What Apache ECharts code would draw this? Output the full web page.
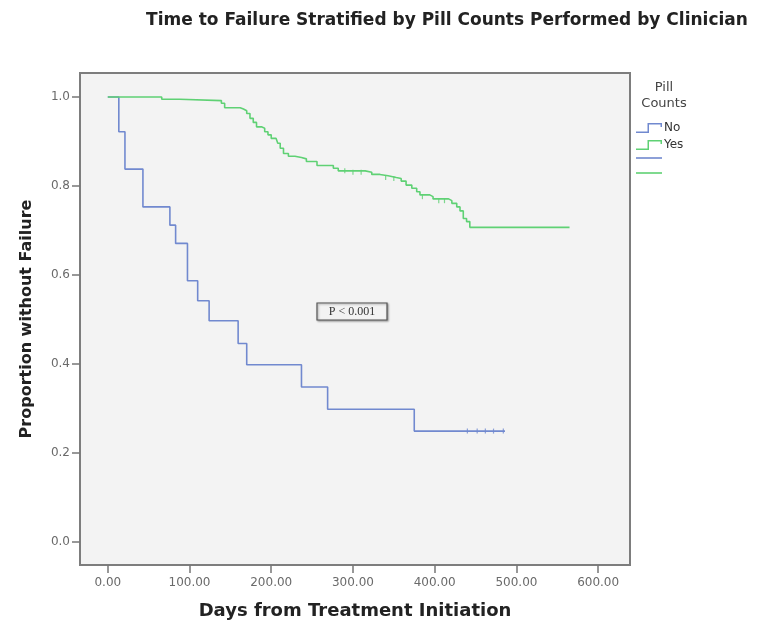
<!DOCTYPE html>
<html>
<head>
<meta charset="utf-8">
<script src="https://cdn.jsdelivr.net/npm/echarts@6/dist/echarts.min.js"></script>
<style>
html,body{margin:0;padding:0;background:#fff;}
#chart{width:772px;height:621px;}
</style>
</head>
<body>
<div id="chart"></div>
<script>
// ---- data ----
const titleText = 'Time to Failure Stratified by Pill Counts Performed by Clinician';
const xTitle = 'Days from Treatment Initiation';
const yTitle = 'Proportion without Failure';
const legendTitle = ['Pill', 'Counts'];
const groupNames = ['No', 'Yes'];
const xTicks = [0, 100, 200, 300, 400, 500, 600];
const yTicks = [0, 0.2, 0.4, 0.6, 0.8, 1.0];
const pLabel = 'P < 0.001';

// Kaplan-Meier steps: time (days) and survival after the drop
const noTimes = [0, 13.5, 21, 43, 76, 83, 97.5, 110, 124, 159.5, 170, 237, 269, 375, 486];
const noSurv  = [1.0, 0.922, 0.838, 0.753, 0.712, 0.671, 0.587, 0.542, 0.497, 0.446, 0.398, 0.348, 0.298, 0.249, 0.249];

const yesTimes = [0, 66, 88, 139, 143, 162, 166, 170, 174, 178, 182, 188, 192, 196, 200, 206, 208, 211, 215, 221, 229, 237, 243, 256, 276, 282, 315, 323, 333, 343, 353, 359, 365, 372, 378, 382, 394, 398, 417, 421, 427, 431, 435, 439, 443, 565];
const yesSurv  = [1.0, 0.995, 0.992, 0.986, 0.976, 0.973, 0.969, 0.963, 0.952, 0.943, 0.933, 0.930, 0.922, 0.915, 0.907, 0.903, 0.896, 0.885, 0.873, 0.867, 0.864, 0.861, 0.855, 0.846, 0.840, 0.834, 0.831, 0.826, 0.823, 0.819, 0.817, 0.811, 0.802, 0.795, 0.787, 0.780, 0.776, 0.771, 0.767, 0.761, 0.753, 0.744, 0.727, 0.720, 0.707, 0.707];

// censored observations (small vertical ticks)
const noCensorTimes = [440, 452, 462, 472, 484];
const noCensorSurv  = [0.249, 0.249, 0.249, 0.249, 0.249];
const yesCensorTimes = [290, 300, 310, 340, 350, 385, 405, 412];
const yesCensorSurv  = [0.834, 0.831, 0.831, 0.819, 0.817, 0.776, 0.767, 0.767];

// ---- styling ----
const blue = '#7189cf';
const green = '#5fd174';
const font = 'DejaVu Sans';

const zip = (a, b) => a.map((v, i) => [v, b[i]]);
const stepIcon = 'path://M0,8.5 L11.5,8.5 L11.5,0 L26,0 L26,4 L24.5,4 L24.5,1.5 L13,1.5 L13,10 L0,10 Z';

const chart = echarts.init(document.getElementById('chart'), null, {renderer: 'canvas'});

const option = {
  animation: false,
  backgroundColor: '#ffffff',
  title: {
    text: titleText,
    left: 442,
    textAlign: 'center',
    top: 7,
    textStyle: {fontFamily: font, fontWeight: 'bold', fontSize: 17, color: '#222'}
  },
  grid: {
    left: 80, right: 142, top: 73, bottom: 56,
    outerBoundsMode: 'none',
    containLabel: false,
    show: true,
    backgroundColor: '#f3f3f3',
    borderColor: '#7d7d7d',
    borderWidth: 2
  },
  legend: {
    orient: 'vertical',
    left: 636,
    top: 122,
    padding: 0,
    itemWidth: 26,
    itemHeight: 10,
    itemGap: 5,
    icon: stepIcon,
    data: groupNames,
    selectedMode: false,
    textStyle: {fontFamily: font, fontSize: 12, color: '#333', padding: [0, 0, 0, -3]}
  },
  xAxis: {
    type: 'value',
    min: -34,
    max: 639,
    name: xTitle,
    nameLocation: 'middle',
    nameGap: 37,
    nameTextStyle: {fontFamily: font, fontWeight: 'bold', fontSize: 18, color: '#222'},
    axisLine: {show: false, onZero: false},
    axisTick: {show: true, length: 8, customValues: xTicks, lineStyle: {color: '#777', width: 1.5}},
    axisLabel: {
      customValues: xTicks,
      margin: 12,
      fontFamily: font, fontSize: 12, color: '#6a6a6a',
      formatter: v => v.toFixed(2)
    },
    splitLine: {show: false}
  },
  yAxis: {
    type: 'value',
    min: -0.052,
    max: 1.054,
    name: yTitle,
    nameLocation: 'middle',
    nameGap: 45,
    nameTextStyle: {fontFamily: font, fontWeight: 'bold', fontSize: 16, color: '#222'},
    axisLine: {show: false, onZero: false},
    axisTick: {show: true, length: 8, customValues: yTicks, lineStyle: {color: '#777', width: 1.5}},
    axisLabel: {
      customValues: yTicks,
      margin: 10,
      fontFamily: font, fontSize: 12, color: '#6a6a6a',
      formatter: v => v.toFixed(1)
    },
    splitLine: {show: false}
  },
  series: [
    {
      name: groupNames[0],
      type: 'line',
      step: 'end',
      symbol: 'none',
      data: zip(noTimes, noSurv),
      itemStyle: {color: blue},
      lineStyle: {color: blue, width: 1.6}
    },
    {
      name: groupNames[1],
      type: 'line',
      step: 'end',
      symbol: 'none',
      data: zip(yesTimes, yesSurv),
      itemStyle: {color: green},
      lineStyle: {color: green, width: 1.6}
    },
    {
      name: 'No censored',
      type: 'scatter',
      symbol: 'rect',
      symbolSize: [1.2, 5],
      data: zip(noCensorTimes, noCensorSurv),
      itemStyle: {color: blue}
    },
    {
      name: 'Yes censored',
      type: 'scatter',
      symbol: 'rect',
      symbolSize: [1.2, 5],
      data: zip(yesCensorTimes, yesCensorSurv),
      itemStyle: {color: green}
    }
  ],
  graphic: [
    {
      type: 'text', x: 664, y: 88,
      style: {text: legendTitle[0], font: '13px "DejaVu Sans"', fill: '#444', textAlign: 'center', textVerticalAlign: 'middle'}
    },
    {
      type: 'text', x: 664, y: 104,
      style: {text: legendTitle[1], font: '13px "DejaVu Sans"', fill: '#444', textAlign: 'center', textVerticalAlign: 'middle'}
    },
    {
      type: 'line', shape: {x1: 636, y1: 158, x2: 662, y2: 158},
      style: {stroke: blue, lineWidth: 1.6}
    },
    {
      type: 'line', shape: {x1: 636, y1: 173, x2: 662, y2: 173},
      style: {stroke: green, lineWidth: 1.6}
    },
    {
      type: 'rect', shape: {x: 317, y: 303, width: 70, height: 17},
      style: {fill: '#f3f3f3', stroke: '#555', lineWidth: 1.2, shadowBlur: 2, shadowColor: 'rgba(0,0,0,0.35)', shadowOffsetX: 1, shadowOffsetY: 1}
    },
    {
      type: 'text', x: 352, y: 311.5,
      style: {text: pLabel, font: '12px "Liberation Serif"', fill: '#333', textAlign: 'center', textVerticalAlign: 'middle'}
    }
  ]
};

chart.setOption(option);
</script>
</body>
</html>
